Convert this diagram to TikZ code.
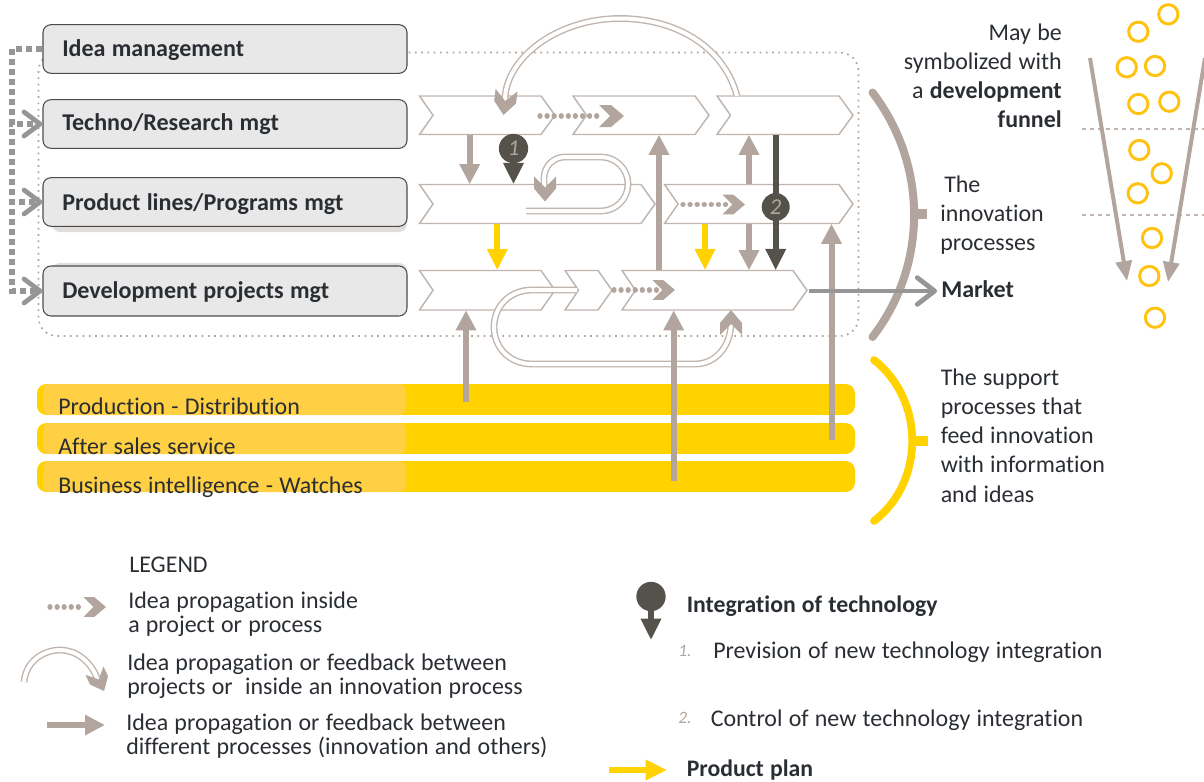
\documentclass[tikz,border=0pt]{standalone}
\usepackage{fontspec}
\setmainfont{Carlito}[Ligatures=NoCommon,WordSpace=1.15]
\usetikzlibrary{arrows.meta}
\definecolor{tb}{HTML}{B2A59D}
\definecolor{tbl}{HTML}{C0B5AE}
\definecolor{dk}{HTML}{54524A}
\definecolor{yl}{HTML}{FFD200}
\definecolor{yll}{HTML}{FFCF44}
\definecolor{rg}{HTML}{FFC20E}
\definecolor{gy}{HTML}{969696}
\definecolor{ink}{HTML}{2A2E33}
\definecolor{boxf}{HTML}{E8E8E8}
\tikzset{
  txt/.style={anchor=base west,inner sep=0pt,yshift=-0.75pt,text=ink,font=\fontsize{17.95}{20}\selectfont},
  txtb/.style={txt,font=\fontsize{18.05}{20}\selectfont\bfseries},
  txtc/.style={txt,font=\fontsize{17.8}{20}\selectfont\bfseries},
  txtr/.style={txt,anchor=base east},
  mgr/.style={draw=black!70,fill=boxf,line width=.8pt,rounded corners=6pt,minimum width=273pt,inner sep=0pt},
  chevs/.style={draw=tbl,fill=white,line width=1.1pt,line join=miter},
  barr/.style={draw=tb,line width=4.5pt,-{Triangle[length=15pt,width=14.5pt]}},
  yarr/.style={draw=yl,line width=4.5pt,-{Triangle[length=16pt,width=14.5pt]}},
  darr/.style={draw=dk,line width=4.8pt,-{Triangle[length=16pt,width=14.5pt]}},
  dbl/.style={draw=tbl,line width=1.05pt,double=white,double distance=3pt},
  dots/.style={draw=tb,line width=4pt,line cap=round,dash pattern=on 0.01pt off 5.3pt},
  gdots/.style={draw=gy,line width=4.5pt,dash pattern=on 4.5pt off 3pt,-{Straight Barb[length=12pt,width=18pt,line width=3.6pt,round]}},
  bub/.style={circle,fill=dk,inner sep=0pt,text=tb,font=\fontsize{17}{17}\selectfont\itshape},
  ring/.style={circle,draw=rg,line width=2.2pt,minimum size=14.5pt,inner sep=0pt},
  bar/.style={fill=yl,rounded corners=7pt},
}
\newcommand{\chev}[5]{%
  \node[inner sep=0pt,minimum width={(#3-#2)*0.75pt},minimum height={(#5-#4)*0.75pt}] (#1) at ({(#2+#3)/2},{(#4+#5)/2}) {};
  \path[chevs] (#2,#4) -- ({#3-14},#4) -- (#3,{(#4+#5)/2}) -- ({#3-14},#5) -- (#2,#5) -- ({#2+13.5},{(#4+#5)/2}) -- cycle;}
\newcommand{\ctip}[4]{\fill[tb,shift={(#1,#2)},rotate=#3,scale=#4] (-25,-11) -- (-13,-11) -- (0,0) -- (-13,11) -- (-25,11) -- (-14,0) -- cycle;}
\begin{document}
\begin{tikzpicture}[x=0.75pt,y=-0.75pt]
\useasboundingbox (0,0) rectangle (1204,782);
% dotted frame
\draw[draw=tb,line width=1.3pt,dash pattern=on 1.3pt off 3.4pt,rounded corners=14pt] (38.5,52.5) rectangle (858.5,336);
% shadows
\fill[black!14!tb!30,rounded corners=6pt] (52,190) rectangle (407,232);
\fill[black!14!tb!30,rounded corners=6pt] (52,263) rectangle (407,300);
% managers
\node[mgr,minimum height=36.5pt] (idea) at (225,49) {};
\node[mgr,minimum height=36.5pt] (tech) at (225,124) {};
\node[mgr,minimum height=36.5pt] (prod) at (225,202) {};
\node[mgr,minimum height=37.5pt] (dev) at (225,291) {};
\node[txtb] (t1) at (62,55) {Idea management};
\node[txtb] (t2) at (62,129.5) {Techno/Research mgt};
\node[txtb] (t3) at (62,209) {Product lines/Programs mgt};
\node[txtb] (t4) at (62,297) {Development projects mgt};
\draw[gdots] (idea.west) -- ++(-30,0) |- (tech.west);
\draw[gdots] (idea.west) -- ++(-30,0) |- (prod.west);
\draw[gdots] (idea.west) -- ++(-30,0) |- (dev.west);
% support bars
\node[bar,minimum width=613.5pt,minimum height=23.2pt,inner sep=0pt] (b1) at (446,399.5) {};
\node[bar,minimum width=613.5pt,minimum height=23.2pt,inner sep=0pt] (b2) at (446,438.5) {};
\node[bar,minimum width=613.5pt,minimum height=23.2pt,inner sep=0pt] (b3) at (446,476.5) {};
\foreach \a/\c in {384/415,423/454,461/492}{
  \fill[yll,rounded corners=5pt] (43,\a) rectangle (406,\c);}
\node[txt] (s1) at (58,413.5) {Production - Distribution};
\node[txt] (s2) at (58,453) {After sales service};
\node[txt] (s3) at (58,492.5) {Business intelligence - Watches};
% chevrons
\chev{a1}{419.5}{555}{96}{134.5}
\chev{a2}{573}{709}{96}{134.5}
\chev{a3}{717}{853}{96}{134.5}
\chev{b4}{419.5}{655}{184.5}{223.5}
\chev{b5}{664.5}{853}{184.5}{223.5}
\chev{c1}{419.5}{555}{270.5}{310}
\chev{c2}{565}{612}{270.5}{310}
\chev{c3}{622}{807}{270.5}{310}
% double curved lines
\draw[dbl] (737,96) .. controls (725,50) and (680,18.5) .. (620,18.5) .. controls (555,18.5) and (505,60) .. (505,100);
\draw[dbl] (526,211) -- (601,211) arc[start angle=90,end angle=-90,radius=27] -- (565,157) arc[start angle=-90,end angle=-180,radius=21] -- (544,188);
\draw[dbl] (577,290) -- (532,290) .. controls (510,290) and (494,306) .. (494,327) .. controls (494,348) and (510,364) .. (532,364) -- (695,364) .. controls (716,364) and (731,346) .. (731,322);
\ctip{503.5}{115}{-97}{1}
\ctip{545}{201.5}{-90}{1}
\ctip{731}{310}{90}{1}
% dotted propagation
\draw[dots] (540,116) -- (600,116); \ctip{624}{116}{0}{1}
\draw[dots] (683,204.5) -- (727,204.5); \ctip{745}{204.5}{0}{.9}
\draw[dots] (614,290) -- (658,290); \ctip{675}{290}{0}{.9}
% vertical connectors
\draw[barr] (469.7,0 |- a1.south) -- (469.7,0 |- b4.north);
\draw[yarr] (497.3,0 |- b4.south) -- (497.3,0 |- c1.north);
\draw[yarr] (705,0 |- b5.south) -- (705,0 |- c3.north);
\draw[barr] (659,0 |- c3.north) -- (659,0 |- a2.south);
\draw[barr] (749,0 |- b5.north) -- (749,0 |- a3.south);
\draw[barr] (749,0 |- b5.south) -- (749,0 |- c3.north);
\draw[barr] (466,402) -- (466,0 |- c1.south);
\draw[barr] (673.7,481) -- (673.7,0 |- c3.south);
\draw[barr] (831.5,440) -- (831.5,0 |- b5.south);
% technology
\node[bub,minimum size=22pt] (n1) at (513.5,148.5) {1};
\draw[darr] (n1) -- (513.5,0 |- b4.north);
\draw[darr] (775.7,0 |- a3.south) -- (775.7,0 |- c3.north);
\node[bub,minimum size=21pt] (n2) at (775.7,207) {2};
% brackets
\draw[tb,line width=6pt,line cap=round] (872.5,92.5) .. controls (928,165) and (928,265) .. (872.5,337);
\draw[tb,line width=7.5pt] (915,214) -- (927,214);
\draw[yl,line width=5.8pt,line cap=round] (874,360) .. controls (925,400) and (925,482) .. (874,521);
\draw[yl,line width=7.5pt] (912,440.5) -- (928,440.5);
% market
\node[txtb] (mk) at (941,296) {Market};
\draw[gy,line width=3.6pt,-{Straight Barb[length=13pt,width=20pt,line width=3.6pt,round]}] (809,291) -- ([xshift=-3pt]mk.west |- 0,291);
% right texts
\node[txtr] (r1) at (1062,39.5) {May be};
\node[txtr] (r2) at (1062,68.5) {symbolized with};
\node[txtr] (r3) at (1062,97.5) {a \textbf{development}};
\node[txtr] (r4) at (1062,126.5) {\textbf{funnel}};
\node[txt] (i1) at (944,191) {The};
\node[txt] (i2) at (940,220) {innovation};
\node[txt] (i3) at (940,249) {processes};
\node[txt] (p1) at (940.5,384.5) {The support};
\node[txt] (p2) at (940.5,413.5) {processes that};
\node[txt] (p3) at (940.5,442.5) {feed innovation};
\node[txt] (p4) at (940.5,471.5) {with information};
\node[txt] (p5) at (940.5,501) {and ideas};
% funnel
\draw[draw=tbl,line width=.9pt,dashed] (1082,129) -- (1204,129);
\draw[draw=tbl,line width=.9pt,dashed] (1082,215) -- (1204,215);
\tikzset{fa/.style={draw=tb,line width=3pt,-{Triangle[length=15pt,width=12pt]}}}
\draw[fa] (1090,58) -- (1127,281);
\draw[fa] (1205,58) -- (1168,282);
\foreach \x/\y [count=\i] in {1138.3/31.7,1168.3/14.3,1126.7/67.3,1155/66,1138.3/104,1169.3/101.7,1139.3/150,1161.7/173.3,1137.7/193.3,1152/238,1149.3/276,1155/317.7}{
  \node[ring] (ring\i) at (\x,\y) {};}
% legend
\node[txt] (l0) at (129,571.5) {LEGEND};
\node[txt] (l1) at (128,607.5) {Idea propagation inside};
\node[txt] (l2) at (128,631.5) {a project or process};
\node[txt] (l3) at (127,669.5) {Idea propagation or feedback between};
\node[txt] (l4) at (127,693.5) {projects or\ \ inside an innovation process};
\node[txt] (l5) at (126,729.5) {Idea propagation or feedback between};
\node[txt] (l6) at (126,753.5) {different processes (innovation and others)};
\draw[dots] (50,607) -- (84,607); \ctip{106}{607}{0}{.9}
\draw[dbl] (24,682) .. controls (26,660) and (45,650) .. (60,650) .. controls (75,650) and (90,660) .. (97,678);
\ctip{104}{691}{-65}{.9}
\draw[barr] (47,725) -- (105,725);
\node[bub,minimum size=22pt] (n3) at (651,596.5) {};
\draw[darr] (n3) -- (651,640);
\node[txtc] (l7) at (686.5,611.5) {Integration of technology};
\node[txt,text=tb,font=\fontsize{13}{14}\selectfont\itshape] (l8) at (678,655) {1.};
\node[txt] (l9) at (713,657) {Prevision of new technology integration};
\node[txt,text=tb,font=\fontsize{13}{14}\selectfont\itshape] (l10) at (678,722) {2.};
\node[txt] (l11) at (710.5,725) {Control of new technology integration};
\draw[yarr] (609,770) -- (667,770);
\node[txtc] (l12) at (686.5,775.3) {Product plan};
\end{tikzpicture}
\end{document}
